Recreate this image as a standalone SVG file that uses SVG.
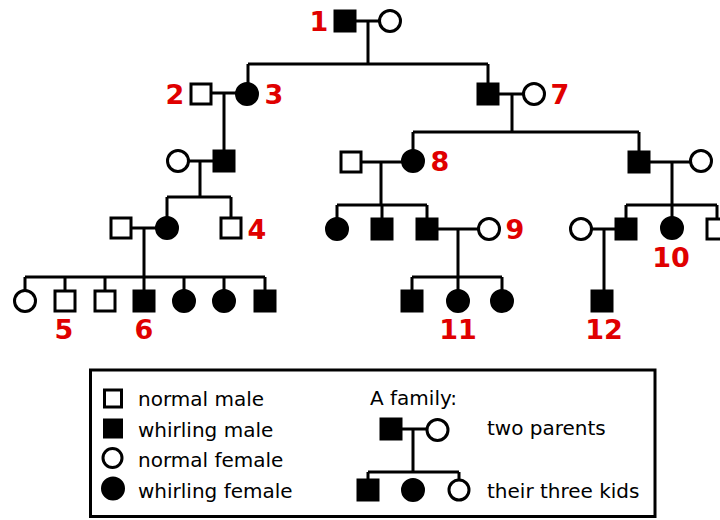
<svg xmlns="http://www.w3.org/2000/svg" width="720" height="520" viewBox="0 0 720 520">
<style>
.n{fill:#fff;stroke:#000;stroke-width:3}
.a{fill:#000;stroke:#000;stroke-width:3}
.ln{fill:none;stroke:#000;stroke-width:3}
.lbl{font-family:"DejaVu Sans",Verdana,sans-serif;font-weight:bold;font-size:27px;fill:#e00000;text-anchor:middle}
.lg{font-family:"DejaVu Sans",Verdana,sans-serif;font-size:20px;fill:#000}
</style>
<rect width="720" height="520" fill="#fff"/>
<g id="connectors" class="ln">
<path d="M356 21H379M368 21V64M248 64H488M248 64V83M488 64V84"/>
<path d="M211 93H236M224 93V151"/>
<path d="M499 94H523M512 94V132M413 132H639M413 132V150M639 132V152"/>
<path d="M189 161H214M200 161V197M167 197H231M167 197V217M231 197V218"/>
<path d="M361 162H402M381 162V205M337 205H427M337 205V218M382 205V219M427 205V219"/>
<path d="M649 162H690M672 162V205M626 205H717M626 205V219M672 205V217M717 205V219"/>
<path d="M131 228H156M144 228V277M25 277H265M25 277V290M65 277V291M105 277V291M144 277V291M184 277V290M224 277V290M265 277V291"/>
<path d="M437 229H478M458 229V277M412 277H502M412 277V291M458 277V290M502 277V290"/>
<path d="M592 229H616M604 229V291"/>
</g>
<g id="n1"><rect class="a" x="335" y="11" width="20" height="20"/><text class="lbl" x="319" y="31">1</text></g>
<g id="n1w"><circle class="n" cx="390" cy="21" r="10.5"/></g>
<g id="n2"><rect class="n" x="191" y="84" width="20" height="20"/><text class="lbl" x="175" y="104">2</text></g>
<g id="n3"><circle class="a" cx="247" cy="94" r="10.5"/><text class="lbl" x="274" y="104">3</text></g>
<g id="n7h"><rect class="a" x="478" y="84" width="20" height="20"/></g>
<g id="n7"><circle class="n" cx="534" cy="94" r="10.5"/><text class="lbl" x="560" y="104">7</text></g>
<g id="g3a"><circle class="n" cx="178" cy="161" r="10.5"/></g>
<g id="g3b"><rect class="a" x="214" y="151" width="20" height="20"/></g>
<g id="g3c"><rect class="n" x="341" y="152" width="20" height="20"/></g>
<g id="n8"><circle class="a" cx="413" cy="161" r="10.5"/><text class="lbl" x="440" y="171">8</text></g>
<g id="g3d"><rect class="a" x="629" y="152" width="20" height="20"/></g>
<g id="g3e"><circle class="n" cx="701" cy="161" r="10.5"/></g>
<g id="g4a"><rect class="n" x="111" y="218" width="20" height="20"/></g>
<g id="g4b"><circle class="a" cx="167" cy="228" r="10.5"/></g>
<g id="n4"><rect class="n" x="221" y="218" width="20" height="20"/><text class="lbl" x="257" y="239">4</text></g>
<g id="g4c"><circle class="a" cx="337" cy="229" r="10.5"/></g>
<g id="g4d"><rect class="a" x="372" y="219" width="20" height="20"/></g>
<g id="g4e"><rect class="a" x="417" y="219" width="20" height="20"/></g>
<g id="n9"><circle class="n" cx="489" cy="229" r="10.5"/><text class="lbl" x="515" y="239">9</text></g>
<g id="g4f"><circle class="n" cx="581" cy="229" r="10.5"/></g>
<g id="g4g"><rect class="a" x="616" y="219" width="20" height="20"/></g>
<g id="n10"><circle class="a" cx="672" cy="228" r="10.5"/><text class="lbl" x="671" y="267">10</text></g>
<g id="g4h"><rect class="n" x="707" y="219" width="20" height="20"/></g>
<g id="g5a"><circle class="n" cx="25" cy="301" r="10.5"/></g>
<g id="n5"><rect class="n" x="55" y="291" width="20" height="20"/><text class="lbl" x="64" y="339">5</text></g>
<g id="g5b"><rect class="n" x="95" y="291" width="20" height="20"/></g>
<g id="n6"><rect class="a" x="134" y="291" width="20" height="20"/><text class="lbl" x="144" y="339">6</text></g>
<g id="g5c"><circle class="a" cx="184" cy="301" r="10.5"/></g>
<g id="g5d"><circle class="a" cx="224" cy="301" r="10.5"/></g>
<g id="g5e"><rect class="a" x="255" y="291" width="20" height="20"/></g>
<g id="g5f"><rect class="a" x="402" y="291" width="20" height="20"/></g>
<g id="n11"><circle class="a" cx="458" cy="301" r="10.5"/><text class="lbl" x="458" y="339">11</text></g>
<g id="g5g"><circle class="a" cx="502" cy="301" r="10.5"/></g>
<g id="n12"><rect class="a" x="592" y="291" width="20" height="20"/><text class="lbl" x="604" y="339">12</text></g>
<g id="legend">
<rect x="90.5" y="370" width="564.5" height="146.5" fill="none" stroke="#000" stroke-width="3"/>
<rect class="n" x="104.5" y="390" width="17" height="17"/>
<rect class="a" x="104.5" y="420" width="17" height="17"/>
<circle class="n" cx="112.5" cy="458" r="9.5"/>
<circle class="a" cx="113" cy="488.5" r="10.5"/>
<text class="lg" x="138" y="406">normal male</text>
<text class="lg" x="138" y="436.5">whirling male</text>
<text class="lg" x="138" y="467">normal female</text>
<text class="lg" x="138" y="497.5">whirling female</text>
<text class="lg" x="370" y="405">A family:</text>
<path class="ln" d="M401 429H427M413 429V472M368 472H459M368 472V480M459 472V479"/>
<rect class="a" x="381" y="419" width="20" height="20"/>
<circle class="n" cx="437.5" cy="430" r="10.5"/>
<rect class="a" x="358" y="480" width="20" height="20"/>
<circle class="a" cx="413" cy="490" r="10.5"/>
<circle class="n" cx="459" cy="490" r="10"/>
<text class="lg" x="487" y="435">two parents</text>
<text class="lg" x="487" y="498">their three kids</text>
</g>
</svg>
